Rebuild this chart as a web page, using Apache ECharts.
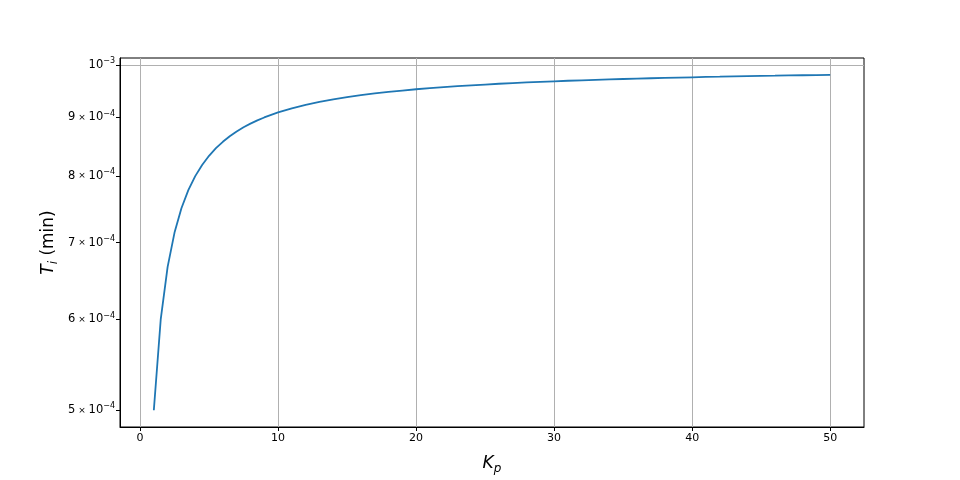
<!DOCTYPE html>
<html>
<head>
    <meta charset="utf-8">
    <title>Ti vs Kp</title>
    <script src="https://cdn.jsdelivr.net/npm/echarts@6/dist/echarts.min.js"></script>
    <style>
        body { margin: 0; background: #fff; }
    </style>
</head>
<body>
    <div id="main" style="width: 960px; height:480px;"></div>

    <script type="text/javascript">
        // Kp values (x)
        var kp = [1, 1.5, 2, 2.5, 3, 3.5, 4, 4.5, 5, 5.5, 6, 6.5, 7, 7.5, 8, 8.5, 9, 9.5, 10,
            11, 12, 13, 14, 15, 16, 17, 18, 19, 20, 21, 22, 23, 24, 25, 26, 27, 28, 29, 30,
            31, 32, 33, 34, 35, 36, 37, 38, 39, 40, 41, 42, 43, 44, 45, 46, 47, 48, 49, 50];
        // Ti in units of 1e-4 min
        var ti = [5.000, 6.000, 6.667, 7.143, 7.500, 7.778, 8.000, 8.182, 8.333, 8.462, 8.571, 8.667, 8.750, 8.824, 8.889, 8.947, 9.000, 9.048, 9.091,
            9.167, 9.231, 9.286, 9.333, 9.375, 9.412, 9.444, 9.474, 9.500, 9.524, 9.545, 9.565, 9.583, 9.600, 9.615, 9.630, 9.643, 9.655, 9.667, 9.677,
            9.688, 9.697, 9.706, 9.714, 9.722, 9.730, 9.737, 9.744, 9.750, 9.756, 9.762, 9.767, 9.773, 9.778, 9.783, 9.787, 9.792, 9.796, 9.800, 9.804];

        var xTicks = [0, 10, 20, 30, 40, 50];
        var yTicks = [5e-4, 6e-4, 7e-4, 8e-4, 9e-4, 1e-3];
        var yMajor = [1e-3];

        var myChart = echarts.init(document.getElementById('main'));

        var data = [];
        for (var i = 0; i < kp.length; i++) {
            data.push([kp[i], ti[i] * 1e-4]);
        }

        // matplotlib style labels: "9 × 10^-4"
        function yLabel(v) {
            var m = Math.round(v / 1e-4);
            if (m === 10) return '{m|10}{e|−3}';
            return '{m|' + m + '}{x| × }{m|10}{e|−4}';
        }

        var nameRich = {
            i: { fontSize: 17, fontStyle: 'italic', color: '#000', fontFamily: 'DejaVu Sans' },
            s: { fontSize: 12, fontStyle: 'italic', color: '#000', fontFamily: 'DejaVu Sans', padding: [10, 0, 0, 0] },
            n: { fontSize: 17, color: '#000', fontFamily: 'DejaVu Sans' }
        };

        option = {
            animation: false,
            backgroundColor: '#fff',
            textStyle: { fontFamily: 'DejaVu Sans' },
            grid: {
                left: 120, right: 96, top: 58, bottom: 53,
                show: true,
                borderColor: '#000',
                borderWidth: 1
            },
            xAxis: {
                type: 'value',
                min: -1.45,
                max: 52.45,
                name: '{i|K}{s|p}',
                nameLocation: 'middle',
                nameGap: 26,
                nameMoveOverlap: false,
                nameTextStyle: { rich: nameRich },
                axisLine: { show: true, onZero: false, lineStyle: { color: '#000', width: 1 } },
                axisTick: { show: true, length: 4, customValues: xTicks, lineStyle: { color: '#000' } },
                axisLabel: { customValues: xTicks, color: '#000', fontSize: 11, margin: 6 },
                splitLine: { show: true, lineStyle: { color: '#b0b0b0', width: 1 } }
            },
            yAxis: [
                {
                    type: 'log',
                    min: 4.835e-4,
                    max: 1.0141e-3,
                    name: '{i|T}{s|i}{n| (min)}',
                    nameLocation: 'middle',
                    nameGap: 60,
                    nameMoveOverlap: false,
                    nameTextStyle: { rich: nameRich },
                    axisLine: { show: true, onZero: false, lineStyle: { color: '#000', width: 1 } },
                    axisTick: { show: true, length: 4, customValues: yTicks, lineStyle: { color: '#000' } },
                    axisLabel: {
                        customValues: yTicks, margin: 5, formatter: yLabel,
                        rich: {
                            m: { fontSize: 11.5, color: '#000', lineHeight: 16, fontFamily: 'DejaVu Sans' },
                            x: { fontSize: 9, color: '#000', lineHeight: 16, fontFamily: 'DejaVu Sans' },
                            e: { fontSize: 8, color: '#000', lineHeight: 8, verticalAlign: 'top', fontFamily: 'DejaVu Sans' }
                        }
                    },
                    splitLine: { show: false }
                },
                {
                    // overlay axis only for the major grid line at 10^-3
                    type: 'log',
                    position: 'left',
                    min: 4.835e-4,
                    max: 1.0141e-3,
                    axisLine: { show: false },
                    axisTick: { show: false, customValues: yMajor },
                    axisLabel: { show: false, customValues: yMajor },
                    splitLine: { show: true, lineStyle: { color: '#b0b0b0', width: 1 } }
                }
            ],
            series: [
                {
                    type: 'line',
                    data: data,
                    showSymbol: false,
                    smooth: false,
                    z: 3,
                    lineStyle: { color: '#1f77b4', width: 1.8 }
                }
            ]
        };

        myChart.setOption(option);
    </script>
</body>
</html>
